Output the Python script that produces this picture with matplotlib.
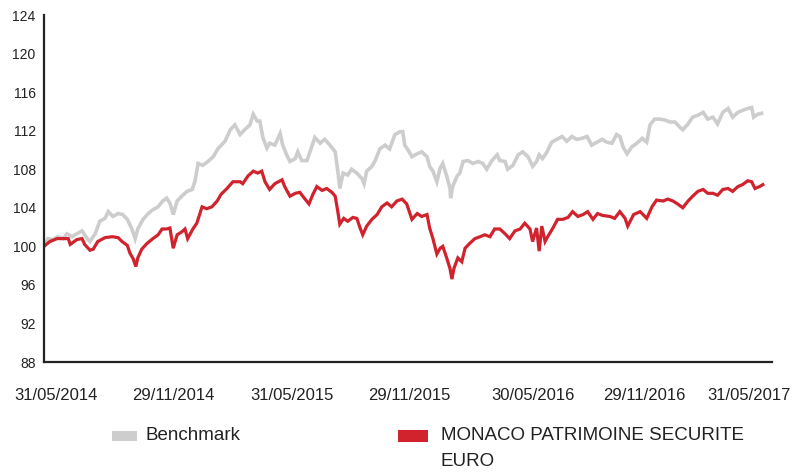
import matplotlib.pyplot as plt
import matplotlib.transforms as mtransforms
from matplotlib.patches import Rectangle
import pandas as pd

plt.rcParams["font.family"] = ["Liberation Sans", "DejaVu Sans"]

# series: days since 31/05/2014 and index value (base 100)
start_date = "2014-05-31"

fund_name = "MONACO PATRIMOINE SECURITE\nEURO"
fund_days = [0, 9, 20, 29, 37, 40, 50, 58, 62, 70, 75, 82, 93, 104, 113, 119, 127, 131,
             136, 140, 143, 149, 157, 166, 174, 180, 187, 192, 197, 203, 210, 215, 219,
             227, 233, 241, 248, 256, 264, 270, 279, 288, 299, 303, 311, 319, 326, 332,
             337, 344, 352, 363, 367, 375, 383, 390, 398, 404, 410, 416, 424, 431, 439,
             444, 448, 451, 457, 463, 471, 477, 482, 486, 492, 500, 508, 515, 523, 530,
             538, 546, 553, 561, 569, 576, 584, 588, 593, 599, 604, 608, 614, 619, 622,
             625, 631, 637, 642, 649, 657, 665, 672, 680, 687, 695, 703, 710, 718, 726,
             733, 741, 745, 751, 755, 759, 764, 768, 776, 783, 791, 799, 806, 814, 822,
             829, 837, 844, 852, 863, 870, 878, 886, 890, 899, 909, 919, 927, 934, 944,
             951, 959, 966, 974, 982, 989, 997, 1005, 1012, 1020, 1027, 1035, 1043, 1050,
             1058, 1065, 1073, 1079, 1084, 1091, 1096]
fund_values = [100.0, 100.5, 100.8, 100.8, 100.8, 100.2, 100.7, 100.8, 100.2, 99.6, 99.7,
               100.5, 100.9, 101.0, 100.9, 100.5, 100.1, 99.3, 98.7, 97.9, 98.8, 99.7,
               100.3, 100.8, 101.2, 101.8, 101.8, 101.9, 99.8, 101.2, 101.5, 101.8, 100.8,
               101.8, 102.4, 104.1, 103.9, 104.1, 104.7, 105.4, 106.0, 106.7, 106.7, 106.5,
               107.3, 107.8, 107.6, 107.8, 106.7, 105.9, 106.5, 106.9, 106.2, 105.2, 105.5,
               105.6, 104.9, 104.4, 105.4, 106.2, 105.8, 106.0, 105.6, 105.2, 103.6, 102.3,
               102.9, 102.6, 103.0, 102.9, 101.9, 101.2, 102.1, 102.8, 103.3, 104.1, 104.5,
               104.1, 104.7, 104.9, 104.4, 102.8, 103.4, 103.1, 103.3, 101.9, 100.8, 99.2,
               99.8, 100.0, 98.8, 97.7, 96.6, 97.7, 98.8, 98.4, 99.8, 100.3, 100.8, 101.0,
               101.2, 101.0, 101.8, 101.8, 101.3, 100.8, 101.6, 101.8, 102.4, 101.8, 100.5,
               101.9, 99.5, 102.1, 100.5, 101.0, 101.9, 102.8, 102.8, 103.0, 103.6, 103.1,
               103.3, 103.6, 102.8, 103.4, 103.2, 103.1, 102.9, 103.6, 102.9, 102.1, 103.3,
               103.6, 102.9, 104.1, 104.8, 104.7, 104.9, 104.7, 104.4, 104.0, 104.7, 105.2,
               105.7, 105.9, 105.5, 105.5, 105.3, 105.9, 106.0, 105.7, 106.2, 106.4, 106.8,
               106.7, 106.0, 106.2, 106.4]

bench_name = "Benchmark"
bench_days = [0, 6, 14, 21, 29, 35, 43, 50, 58, 66, 70, 78, 85, 93, 98, 105, 113, 120,
              127, 134, 139, 143, 151, 159, 166, 174, 181, 187, 192, 197, 203, 210, 218,
              226, 230, 235, 242, 250, 258, 265, 273, 276, 284, 291, 299, 306, 314, 319,
              325, 329, 334, 340, 344, 352, 360, 364, 370, 375, 383, 387, 393, 401, 409,
              413, 421, 428, 436, 444, 448, 451, 456, 463, 469, 477, 485, 488, 492, 500,
              505, 512, 520, 527, 535, 543, 547, 550, 555, 561, 569, 576, 584, 588, 593,
              599, 604, 608, 614, 619, 620, 623, 630, 634, 639, 646, 654, 662, 669, 675,
              683, 691, 695, 703, 707, 715, 723, 730, 738, 745, 751, 755, 760, 767, 774,
              782, 790, 797, 805, 812, 820, 828, 835, 843, 851, 858, 866, 873, 878, 883,
              889, 896, 904, 912, 919, 924, 931, 939, 947, 954, 962, 969, 974, 982, 989,
              997, 1005, 1012, 1020, 1027, 1035, 1043, 1050, 1058, 1065, 1073, 1079, 1082,
              1088, 1094]
bench_values = [100.0, 100.8, 100.7, 101.0, 100.8, 101.3, 101.0, 101.3, 101.6, 100.8,
                100.5, 101.3, 102.6, 102.9, 103.6, 103.1, 103.4, 103.3, 102.8, 101.8,
                100.8, 101.8, 102.8, 103.4, 103.8, 104.1, 104.7, 105.0, 104.5, 103.3,
                104.7, 105.2, 105.7, 105.9, 106.7, 108.6, 108.4, 108.8, 109.3, 110.1,
                110.7, 110.9, 112.1, 112.6, 111.6, 112.1, 112.6, 113.7, 113.0, 113.0,
                111.2, 110.2, 110.7, 110.5, 111.7, 110.5, 109.5, 108.8, 109.1, 109.8,
                108.9, 108.9, 110.5, 111.3, 110.7, 111.1, 110.5, 109.8, 107.8, 106.0,
                107.6, 107.4, 108.0, 107.6, 107.0, 106.5, 107.8, 108.3, 108.9, 110.1,
                110.5, 110.1, 111.6, 111.9, 111.9, 110.5, 110.0, 109.3, 109.6, 109.8,
                109.3, 108.3, 107.8, 106.7, 108.1, 108.6, 107.3, 106.0, 105.0, 106.2,
                107.3, 107.6, 108.8, 108.9, 108.6, 108.8, 108.6, 108.0, 108.9, 109.5,
                108.9, 108.8, 108.0, 108.4, 109.5, 109.8, 109.3, 108.3, 108.8, 109.5,
                109.1, 109.8, 110.8, 111.1, 111.4, 110.9, 111.4, 111.1, 111.2, 111.4,
                110.5, 110.8, 111.1, 110.8, 110.7, 111.6, 111.4, 110.3, 109.6, 110.3,
                110.7, 111.2, 110.8, 112.6, 113.2, 113.2, 113.1, 112.9, 112.9, 112.4,
                112.1, 112.7, 113.4, 113.6, 113.9, 113.2, 113.4, 112.7, 113.9, 114.3,
                113.4, 113.9, 114.1, 114.3, 114.4, 113.4, 113.7, 113.8]

x_tick_dates = ["2014-05-31", "2014-11-29", "2015-05-31", "2015-11-29",
                "2016-05-30", "2016-11-29", "2017-05-31"]
y_ticks = [88, 92, 96, 100, 104, 108, 112, 116, 120, 124]

fund_color = "#D0232E"
bench_color = "#CDCDCD"

start = pd.Timestamp(start_date)
fund_dates = start + pd.to_timedelta(fund_days, unit="D")
bench_dates = start + pd.to_timedelta(bench_days, unit="D")
tick_dates = pd.to_datetime(x_tick_dates)

fig = plt.figure(figsize=(8.05, 4.72), dpi=100)
ax = fig.add_axes([44 / 805, 1 - 362 / 472, 728 / 805, 347 / 472])

ax.plot(bench_dates, bench_values, color=bench_color, lw=2.6, solid_joinstyle="miter")
ax.plot(fund_dates, fund_values, color=fund_color, lw=2.3, solid_joinstyle="miter")

ax.set_xlim(start, start + pd.Timedelta(days=1110))
ax.set_ylim(88, 124)
ax.set_yticks(y_ticks)
ax.set_yticklabels([str(v) for v in y_ticks], fontsize=10, color="#222222")
ax.set_xticks(tick_dates)
ax.set_xticklabels([d.strftime("%d/%m/%Y") for d in tick_dates], fontsize=12,
                   color="#222222")
ax.tick_params(axis="both", length=0)
ax.tick_params(axis="y", pad=6)
ax.tick_params(axis="x", pad=19)

# nudge the date labels to where they sit in the reference
label_shift_px = [12, 10, 9, 7, 10, 2, -14]
for lbl, dx in zip(ax.get_xticklabels(), label_shift_px):
    lbl.set_transform(lbl.get_transform() +
                      mtransforms.ScaledTranslation(dx / 100, 0, fig.dpi_scale_trans))

for side in ["top", "right"]:
    ax.spines[side].set_visible(False)
for side in ["left", "bottom"]:
    ax.spines[side].set_color("#222222")
    ax.spines[side].set_linewidth(1.6)

# legend drawn by hand below the axes
fig.add_artist(Rectangle((112 / 805, 1 - 441 / 472), 25 / 805, 10 / 472,
                         transform=fig.transFigure, color=bench_color, lw=0))
fig.text(145 / 805, 1 - 436 / 472, bench_name, fontsize=13.5, color="#222222",
         va="center", ha="left")
fig.add_artist(Rectangle((398 / 805, 1 - 442 / 472), 30 / 805, 12 / 472,
                         transform=fig.transFigure, color=fund_color, lw=0))
fig.text(441 / 805, 1 - 427 / 472, fund_name, fontsize=13.5, color="#222222",
         va="top", ha="left", linespacing=1.7)

fig.savefig("out.png", dpi=100)
